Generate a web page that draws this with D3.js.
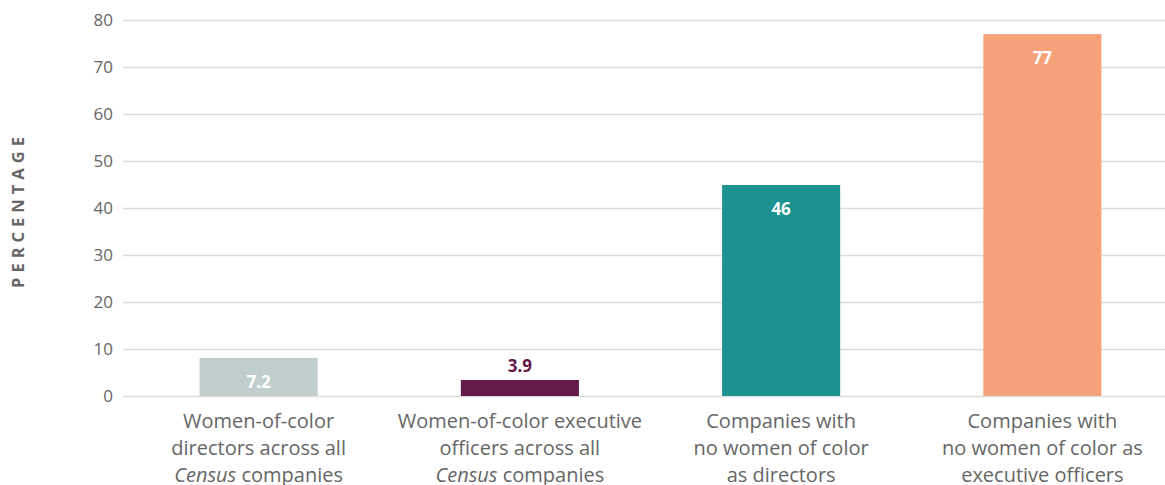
<!DOCTYPE html>
<html>
<head>
<meta charset="utf-8">
<script src="https://cdn.jsdelivr.net/npm/d3@7"></script>
<style>
  body { margin: 0; background: #fff; }
  svg { display: block; font-family: "Open Sans", sans-serif; }
</style>
</head>
<body>
<div id="chart"></div>
<script>
// data
const categories = [
  ["Women-of-color", "directors across all", "*Census* companies"],
  ["Women-of-color executive", "officers across all", "*Census* companies"],
  ["Companies with", "no women of color", "as directors"],
  ["Companies with", "no women of color as", "executive officers"]
];
const values = [8.1, 3.4, 44.9, 77];          // bar heights as drawn
const valueLabels = ["7.2", "3.9", "46", "77"]; // printed labels
const colors = ["#c0cfcd", "#621a4b", "#1c9390", "#f5a17a"];
const labelInside = [true, false, true, true];
const yTicks = [0, 10, 20, 30, 40, 50, 60, 70, 80];

const width = 1165;
const height = 485;

const svg = d3.select("#chart")
    .append("svg")
    .attr("width", width)
    .attr("height", height);

const x = d3.scaleBand()
    .domain(d3.range(categories.length))
    .range([128, 1173])
    .paddingInner(0.548)
    .paddingOuter(0.274);

const y = d3.scaleLinear()
    .domain([0, 80])
    .range([396, 20]);

// grid + tick labels
const yAxis = svg.append("g")
    .attr("transform", "translate(123,0)")
    .call(d3.axisLeft(y).tickValues(yTicks).tickSize(-(width - 123)).tickPadding(10))
    .call(g => g.select(".domain").remove());
yAxis.selectAll(".tick line").attr("stroke", "#dcdcdc").attr("stroke-width", 1.6);
yAxis.selectAll(".tick text")
    .attr("fill", "#666")
    .attr("font-size", 17)
    .attr("font-family", "Open Sans, sans-serif");

svg.append("text")
    .attr("transform", "translate(24,210) rotate(-90)")
    .attr("text-anchor", "middle")
    .attr("fill", "#666")
    .attr("font-size", 16.5)
    .attr("font-weight", "bold")
    .attr("letter-spacing", 5)
    .text("PERCENTAGE");

// bars
svg.append("g")
  .selectAll("rect")
  .data(values)
  .join("rect")
    .attr("x", (d, i) => x(i))
    .attr("width", x.bandwidth())
    .attr("y", d => y(d))
    .attr("height", d => y(0) - y(d))
    .attr("fill", (d, i) => colors[i]);

// value labels
svg.append("g")
  .selectAll("text")
  .data(values)
  .join("text")
    .attr("x", (d, i) => x(i) + x.bandwidth() / 2)
    .attr("y", (d, i) => labelInside[i] ? y(d) + 24 : y(d) - 14)
    .attr("dy", "0.35em")
    .attr("text-anchor", "middle")
    .attr("font-size", 17)
    .attr("font-weight", "bold")
    .attr("fill", (d, i) => labelInside[i] ? "#fff" : colors[i])
    .text((d, i) => valueLabels[i]);

// category labels, *word* = italic
const cat = svg.append("g")
  .selectAll("text")
  .data(categories)
  .join("text")
    .attr("text-anchor", "middle")
    .attr("fill", "#666")
    .attr("font-size", 20);

cat.each(function(lines, i) {
  const t = d3.select(this);
  lines.forEach((line, j) => {
    const parts = line.split(/(\*[^*]+\*)/).filter(s => s.length);
    parts.forEach((p, k) => {
      const ts = t.append("tspan");
      if (k === 0) ts.attr("x", x(i) + x.bandwidth() / 2).attr("y", 428 + j * 27);
      if (p.startsWith("*")) ts.attr("font-style", "italic").text(p.slice(1, -1));
      else ts.text(p);
    });
  });
});
</script>
</body>
</html>
